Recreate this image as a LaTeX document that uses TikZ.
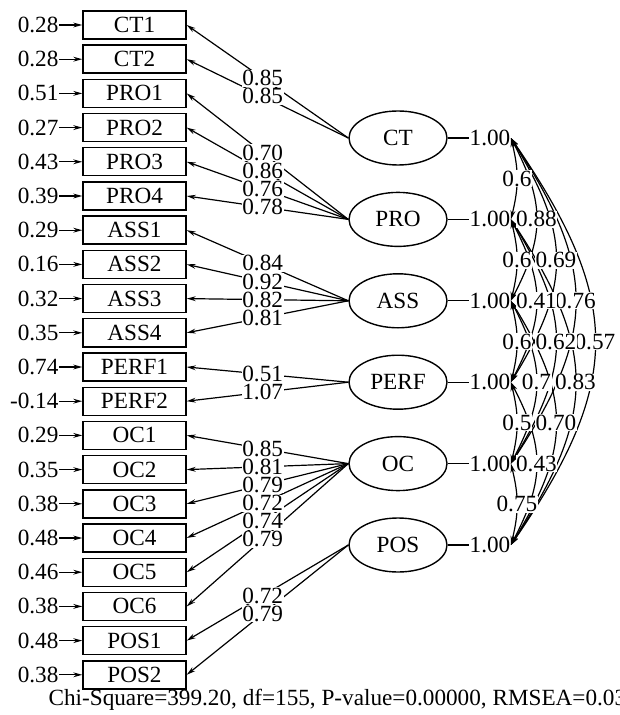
\documentclass[tikz,border=0pt]{standalone}
\usepackage{fontspec}
\setmainfont{Liberation Serif}
\usetikzlibrary{arrows.meta,shapes.geometric}

\begin{document}
\begin{tikzpicture}[x=0.5pt, y=-0.5pt, font=\fontsize{11.6}{13}\selectfont, line width=0.6pt,
  obs/.style={draw, line width=0.7pt, minimum width=51.5pt, minimum height=14pt, inner sep=0pt},
  lat/.style={draw, ellipse, line width=0.7pt, minimum width=49pt, minimum height=27pt, inner sep=0pt},
  val/.style={inner sep=0.3pt, fill=white},
  tip/.style={-{Stealth[length=4.5pt,width=2.4pt]}},
  bitip/.style={{Stealth[length=4.5pt,width=2.4pt]}-{Stealth[length=4.5pt,width=2.4pt]}}]
  \useasboundingbox (0,0) rectangle (619,715);
  \clip (0,0) rectangle (619,715);
  % latent variables
  \foreach \f [count=\k] in {CT,PRO,ASS,PERF,OC,POS} {
    \node[lat] (\f) at (398, {138+81.4*(\k-1)}) {\f};
    \node[inner sep=0pt] (v\k) at (490, {138+81.4*(\k-1)}) {1.00};
    \draw (\f.east) -- (v\k.west);
  }
  % indicators with error variances
  \foreach \m/\e/\f [count=\n] in {CT1/0.28/CT, CT2/0.28/CT,
      PRO1/0.51/PRO, PRO2/0.27/PRO, PRO3/0.43/PRO, PRO4/0.39/PRO,
      ASS1/0.29/ASS, ASS2/0.16/ASS, ASS3/0.32/ASS, ASS4/0.35/ASS,
      PERF1/0.74/PERF, PERF2/-0.14/PERF,
      OC1/0.29/OC, OC2/0.35/OC, OC3/0.38/OC, OC4/0.48/OC, OC5/0.46/OC, OC6/0.38/OC,
      POS1/0.48/POS, POS2/0.38/POS} {
    \node[obs] (\m) at (134.5, {25+34.2*(\n-1)}) {\m};
    \node[anchor=east, inner sep=0pt] (e\n) at (59, {25+34.2*(\n-1)}) {\e};
    \draw[tip] (e\n.east) -- (\m.west);
    \draw[tip] (\f.west) -- coordinate[pos=0.53] (l\n) (\m.east);
  }
  \foreach \l [count=\n] in {0.85,0.85,0.70,0.86,0.76,0.78,0.84,0.92,0.82,0.81,
      0.51,1.07,0.85,0.81,0.79,0.72,0.74,0.79,0.72,0.79}
    \node[val] at (l\n) {\l};
  % correlations
  \foreach \i/\j in {1/2,1/3,1/4,1/5,1/6,2/3,2/4,2/5,2/6,3/4,3/5,3/6,4/5,4/6,5/6} {
    \pgfmathsetmacro\a{26*(\j-\i)-18}
    \pgfmathsetmacro\b{0.4*81.4*(\j-\i)}
    \draw[bitip] (v\i.east) .. controls +(\a,\b) and +(\a,-\b) .. (v\j.east) coordinate[pos=0.5] (r\i\j);
  }
  \foreach \i/\j/\r in {1/2/0.6, 1/3/0.88, 1/4/0.69, 1/5/0.76, 1/6/0.57,
      2/3/0.6, 2/4/0.41, 2/5/0.62, 2/6/0.83, 3/4/0.6, 3/5/0.7, 3/6/0.70,
      4/5/0.5, 4/6/0.43, 5/6/0.75}
    \node[val] at (r\i\j) {\r};
  \node[anchor=west, inner sep=0pt] (fit) at (48, 700) {Chi-Square=399.20, df=155, P-value=0.00000, RMSEA=0.03};
\end{tikzpicture}
\end{document}
